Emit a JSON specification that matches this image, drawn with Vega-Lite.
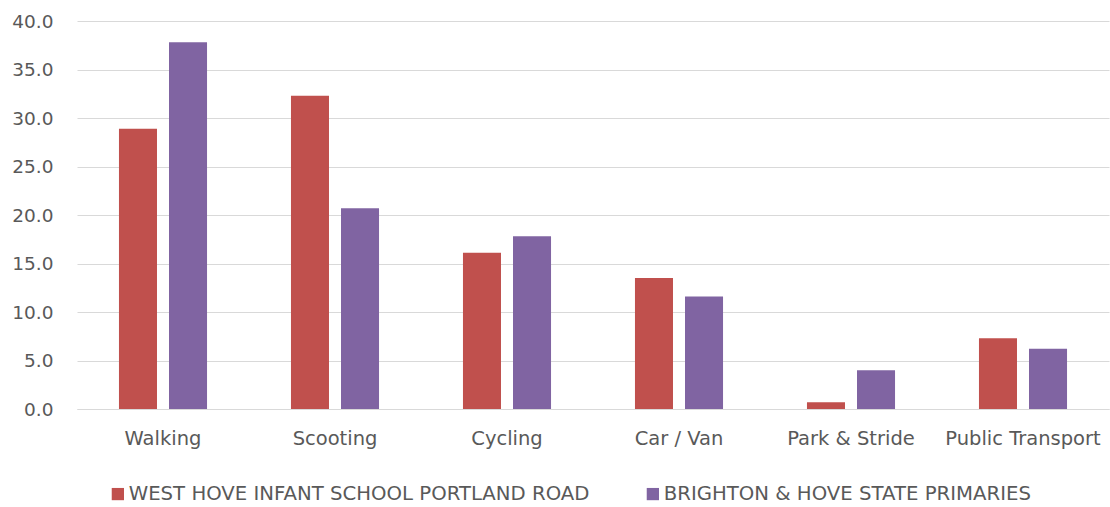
{
  "$schema": "https://vega.github.io/schema/vega-lite/v6.json",
  "width": 1032,
  "height": 388,
  "autosize": {"type": "none"},
  "padding": {"left": 77, "top": 21, "right": 1, "bottom": 98},
  "background": "white",
  "data": {
    "values": [
      {"mode": "Walking", "series": "WEST HOVE INFANT SCHOOL PORTLAND ROAD", "value": 28.9},
      {"mode": "Walking", "series": "BRIGHTON & HOVE STATE PRIMARIES", "value": 37.8},
      {"mode": "Scooting", "series": "WEST HOVE INFANT SCHOOL PORTLAND ROAD", "value": 32.3},
      {"mode": "Scooting", "series": "BRIGHTON & HOVE STATE PRIMARIES", "value": 20.7},
      {"mode": "Cycling", "series": "WEST HOVE INFANT SCHOOL PORTLAND ROAD", "value": 16.1},
      {"mode": "Cycling", "series": "BRIGHTON & HOVE STATE PRIMARIES", "value": 17.8},
      {"mode": "Car / Van", "series": "WEST HOVE INFANT SCHOOL PORTLAND ROAD", "value": 13.5},
      {"mode": "Car / Van", "series": "BRIGHTON & HOVE STATE PRIMARIES", "value": 11.6},
      {"mode": "Park & Stride", "series": "WEST HOVE INFANT SCHOOL PORTLAND ROAD", "value": 0.7},
      {"mode": "Park & Stride", "series": "BRIGHTON & HOVE STATE PRIMARIES", "value": 4.0},
      {"mode": "Public Transport", "series": "WEST HOVE INFANT SCHOOL PORTLAND ROAD", "value": 7.3},
      {"mode": "Public Transport", "series": "BRIGHTON & HOVE STATE PRIMARIES", "value": 6.2}
    ]
  },
  "mark": {"type": "bar"},
  "encoding": {
    "x": {
      "field": "mode", "type": "nominal", "sort": null, "title": null,
      "scale": {"paddingInner": 0.488, "paddingOuter": 0.244},
      "axis": {
        "labelAngle": 0, "ticks": false, "domain": true, "domainColor": "#d9d9d9",
        "labelFont": "DejaVu Sans", "labelFontSize": 19.5, "labelColor": "#595959",
        "labelPadding": 20, "grid": false
      }
    },
    "xOffset": {
      "field": "series", "type": "nominal", "sort": null,
      "scale": {"paddingInner": 0.24, "paddingOuter": 0}
    },
    "y": {
      "field": "value", "type": "quantitative", "title": null,
      "scale": {"domain": [0, 40], "nice": false},
      "axis": {
        "values": [0, 5, 10, 15, 20, 25, 30, 35, 40], "format": ".1f",
        "ticks": false, "domain": false, "gridColor": "#d9d9d9",
        "labelFont": "DejaVu Sans", "labelFontSize": 18.5, "labelColor": "#595959",
        "labelPadding": 24
      }
    },
    "color": {
      "field": "series", "type": "nominal", "sort": null, "title": null,
      "scale": {"range": ["#C0504D", "#8064A2"]},
      "legend": {
        "orient": "none", "direction": "horizontal", "legendX": 31, "legendY": 463,
        "symbolType": "square", "symbolSize": 150, "symbolStrokeWidth": 0,
        "labelFont": "DejaVu Sans", "labelFontSize": 19.7, "labelColor": "#595959",
        "labelOffset": 1, "columnPadding": 53, "labelLimit": 700
      }
    }
  },
  "config": {"view": {"stroke": null}}
}
